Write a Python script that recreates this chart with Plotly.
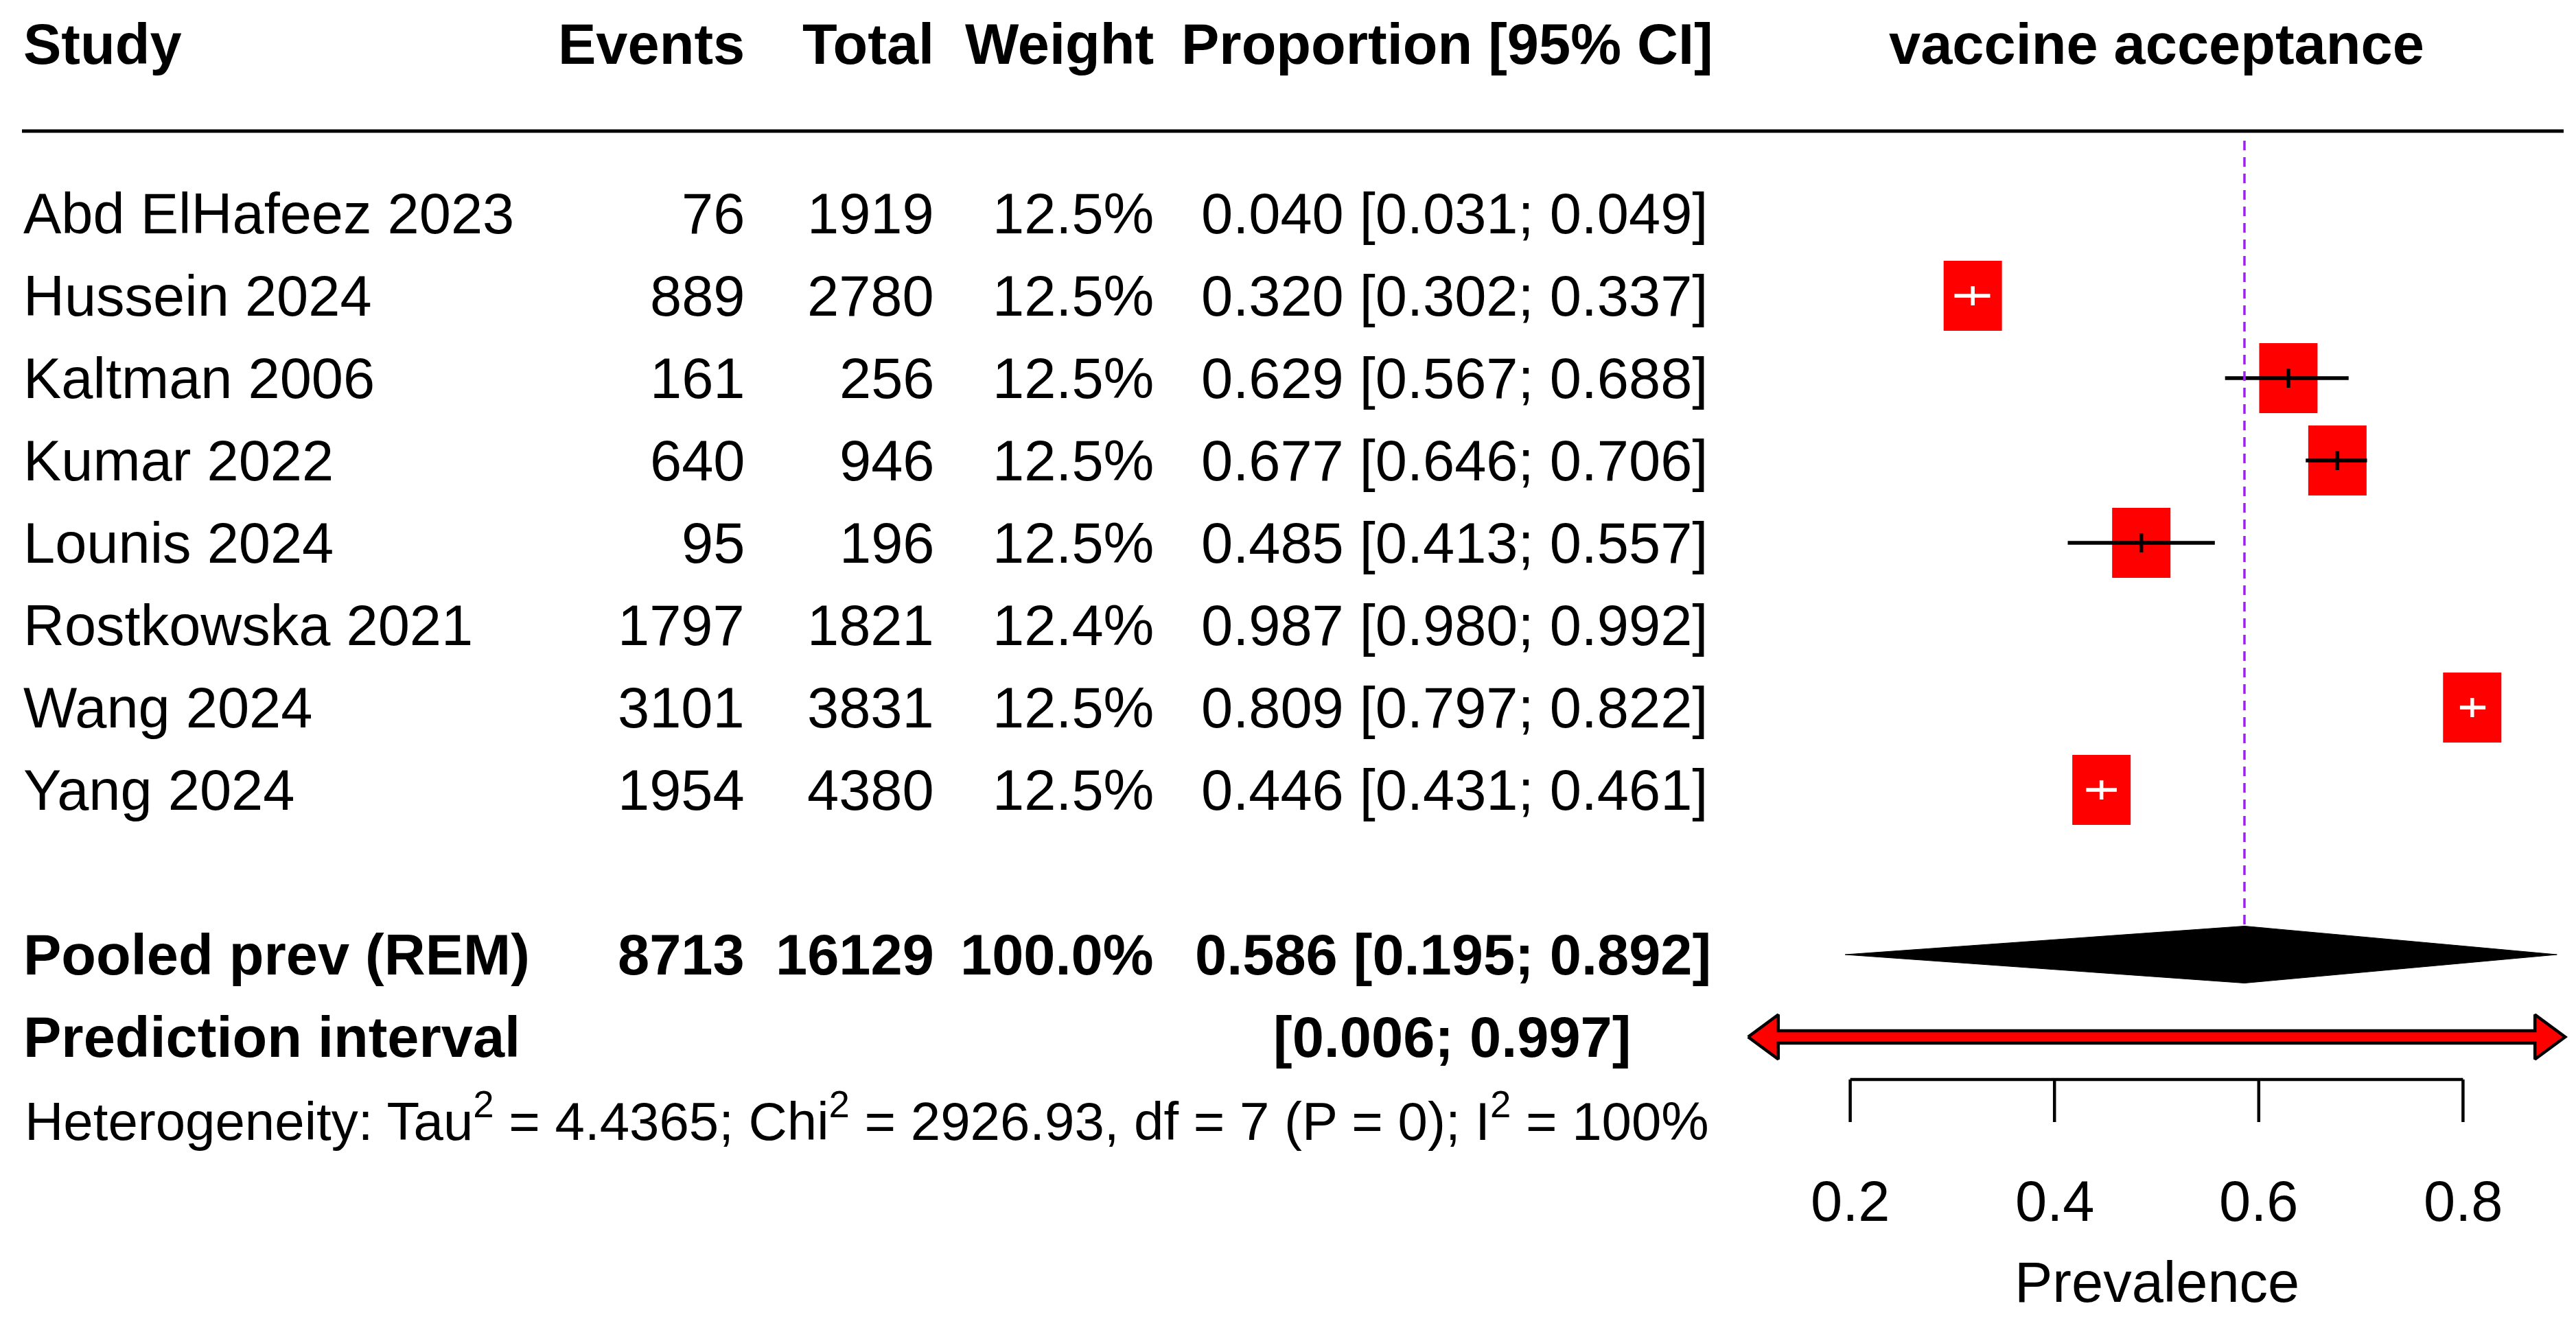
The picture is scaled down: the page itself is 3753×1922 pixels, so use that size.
import plotly.graph_objects as go

# ---------------- data ----------------
studies = ["Abd ElHafeez 2023", "Hussein 2024", "Kaltman 2006", "Kumar 2022",
           "Lounis 2024", "Rostkowska 2021", "Wang 2024", "Yang 2024"]
events = [76, 889, 161, 640, 95, 1797, 3101, 1954]
totals = [1919, 2780, 256, 946, 196, 1821, 3831, 4380]
weights = ["12.5%", "12.5%", "12.5%", "12.5%", "12.5%", "12.4%", "12.5%", "12.5%"]
prop = [0.040, 0.320, 0.629, 0.677, 0.485, 0.987, 0.809, 0.446]
lower = [0.031, 0.302, 0.567, 0.646, 0.413, 0.980, 0.797, 0.431]
upper = [0.049, 0.337, 0.688, 0.706, 0.557, 0.992, 0.822, 0.461]

pooled_label = "Pooled prev (REM)"
pooled_events = 8713
pooled_total = 16129
pooled_weight = "100.0%"
pooled_est = 0.586
pooled_lo = 0.195
pooled_hi = 0.892

pi_label = "Prediction interval"
pi_lo = 0.006
pi_hi = 0.997

het_text = ("Heterogeneity: Tau<sup>2</sup> = 4.4365; Chi<sup>2</sup> = 2926.93, "
            "df = 7 (P = 0); I<sup>2</sup> = 100%")

headers = ["Study", "Events", "Total", "Weight", "Proportion [95% CI]"]
plot_title = "vaccine acceptance"
x_label = "Prevalence"
xlim = [0.1, 0.9]
tick_vals = [0.2, 0.4, 0.6, 0.8]
tick_text = ["0.2", "0.4", "0.6", "0.8"]

# ---------------- layout constants ----------------
W, H = 3753, 1922
ROW_PX = 120.0          # pixels per row
ROW0_PX = 303.0         # pixel centre of first study row
X0_PX = 2390.0          # pixel of value 0 on forest scale
XU_PX = 1488.0          # pixels per unit on forest scale

FONT = "Liberation Sans, Arial, Helvetica, sans-serif"
FS = 83
RED = "#FF0000"
PURPLE = "#A020F0"

def row_of_px(p):
    return (p - ROW0_PX) / ROW_PX

n = len(studies)
pooled_row = n + 1
pi_row = n + 2
het_row = row_of_px(1620)
header_row = row_of_px(56)
header_line_row = row_of_px(183)
axis_row = row_of_px(1565)
tick_end_row = row_of_px(1627)
ticklab_row = row_of_px(1742)
xlabel_row = row_of_px(1860)
TXT_OFF = 0 / ROW_PX

sq_hw = 42.5 / XU_PX          # square half-width (value units)
sq_hh = 51 / ROW_PX           # square half-height (rows)
tick_hh = 14 / ROW_PX         # centre tick half-height
dia_hh = 41.5 / ROW_PX        # diamond half-height
arr_w = 44 / XU_PX            # arrow-head length
arr_hh = 32.5 / ROW_PX        # arrow-head half-height
bar_hh = 9 / ROW_PX           # bar half-thickness

def px(p):
    return p / W

fig = go.Figure()

# squares + CI lines
shapes = []
for i in range(n):
    if upper[i] < xlim[0] or lower[i] > xlim[1]:
        continue
    shapes.append(dict(type="rect", xref="x", yref="y", layer="below",
                       x0=prop[i] - sq_hw, x1=prop[i] + sq_hw,
                       y0=i - sq_hh, y1=i + sq_hh,
                       fillcolor=RED, line=dict(width=0)))
    inside = (prop[i] - lower[i] <= sq_hw) and (upper[i] - prop[i] <= sq_hw)
    col = "white" if inside else "black"
    fig.add_trace(go.Scatter(
        x=[max(lower[i], xlim[0]), min(upper[i], xlim[1]), None, prop[i], prop[i]],
        y=[i, i, None, i - tick_hh, i + tick_hh],
        mode="lines", line=dict(color=col, width=5.5),
        hoverinfo="skip", showlegend=False))

# dashed pooled line
fig.add_trace(go.Scatter(
    x=[pooled_est, pooled_est], y=[row_of_px(197), pooled_row - dia_hh],
    mode="lines", line=dict(color=PURPLE, width=3.5, dash="14px,10px"),
    hoverinfo="skip", showlegend=False))

# diamond
fig.add_trace(go.Scatter(
    x=[pooled_lo, pooled_est, pooled_hi, pooled_est, pooled_lo],
    y=[pooled_row, pooled_row - dia_hh, pooled_row, pooled_row + dia_hh, pooled_row],
    mode="lines", fill="toself", fillcolor="black",
    line=dict(color="black", width=1), hoverinfo="skip", showlegend=False))

# prediction interval arrow
a = max(pi_lo, xlim[0])
b = min(pi_hi, xlim[1])
r = pi_row
fig.add_trace(go.Scatter(
    x=[a, a + arr_w, a + arr_w, b - arr_w, b - arr_w, b,
       b - arr_w, b - arr_w, a + arr_w, a + arr_w, a],
    y=[r, r - arr_hh, r - bar_hh, r - bar_hh, r - arr_hh, r,
       r + arr_hh, r + bar_hh, r + bar_hh, r + arr_hh, r],
    mode="lines", fill="toself", fillcolor=RED,
    line=dict(color="black", width=4.5), cliponaxis=False,
    hoverinfo="skip", showlegend=False))

# x axis (drawn)
seg_x, seg_y = [tick_vals[0], tick_vals[-1]], [axis_row, axis_row]
for t in tick_vals:
    seg_x += [None, t, t]
    seg_y += [None, axis_row, tick_end_row]
fig.add_trace(go.Scatter(x=seg_x, y=seg_y, mode="lines",
                         line=dict(color="black", width=4.5),
                         hoverinfo="skip", showlegend=False))

ann = []

def txt(text, x, y, anchor, bold=False, size=FS, xref="paper"):
    ann.append(dict(text=("<b>%s</b>" % text) if bold else text,
                    x=x, y=y + TXT_OFF, xref=xref, yref="y",
                    xanchor=anchor, yanchor="middle", showarrow=False,
                    font=dict(family=FONT, size=size, color="black")))

for t, lab in zip(tick_vals, tick_text):
    txt(lab, t, ticklab_row, "center", xref="x")
txt(x_label, (xlim[0] + xlim[1]) / 2, xlabel_row, "center", xref="x")

# headers
txt(headers[0], px(24), header_row, "left", bold=True)
for h, c in zip(headers[1:], [1079, 1355, 1675, 2490]):
    txt(h, px(c), header_row, "right", bold=True)
txt(plot_title, (xlim[0] + xlim[1]) / 2, header_row, "center", bold=True, xref="x")

# study rows
for i in range(n):
    txt(studies[i], px(24), i, "left")
    txt(str(events[i]), px(1079), i, "right")
    txt(str(totals[i]), px(1355), i, "right")
    txt(weights[i], px(1675), i, "right")
    txt("%.3f [%.3f; %.3f]" % (prop[i], lower[i], upper[i]), px(2482), i, "right")

# pooled
txt(pooled_label, px(24), pooled_row, "left", bold=True)
txt(str(pooled_events), px(1079), pooled_row, "right", bold=True)
txt(str(pooled_total), px(1355), pooled_row, "right", bold=True)
txt(pooled_weight, px(1675), pooled_row, "right", bold=True)
txt("%.3f [%.3f; %.3f]" % (pooled_est, pooled_lo, pooled_hi), px(2487), pooled_row, "right", bold=True)

txt(pi_label, px(24), pi_row, "left", bold=True)
txt("[%.3f; %.3f]" % (pi_lo, pi_hi), px(2370), pi_row, "right", bold=True)

txt(het_text, px(26), het_row, "left", size=78)

# header rule
shapes.append(dict(type="line", xref="paper", yref="y",
                   x0=px(24), x1=px(3727), y0=header_line_row, y1=header_line_row,
                   line=dict(color="black", width=5)))

fig.update_layout(
    width=W, height=H, margin=dict(l=0, r=0, t=0, b=0),
    paper_bgcolor="white", plot_bgcolor="white",
    showlegend=False, shapes=shapes, annotations=ann,
    xaxis=dict(range=[-X0_PX / XU_PX, (W - X0_PX) / XU_PX], visible=False,
               showgrid=False, zeroline=False, fixedrange=True),
    yaxis=dict(range=[row_of_px(H), row_of_px(0)], visible=False,
               showgrid=False, zeroline=False, fixedrange=True),
)

fig.write_html("out.html")
